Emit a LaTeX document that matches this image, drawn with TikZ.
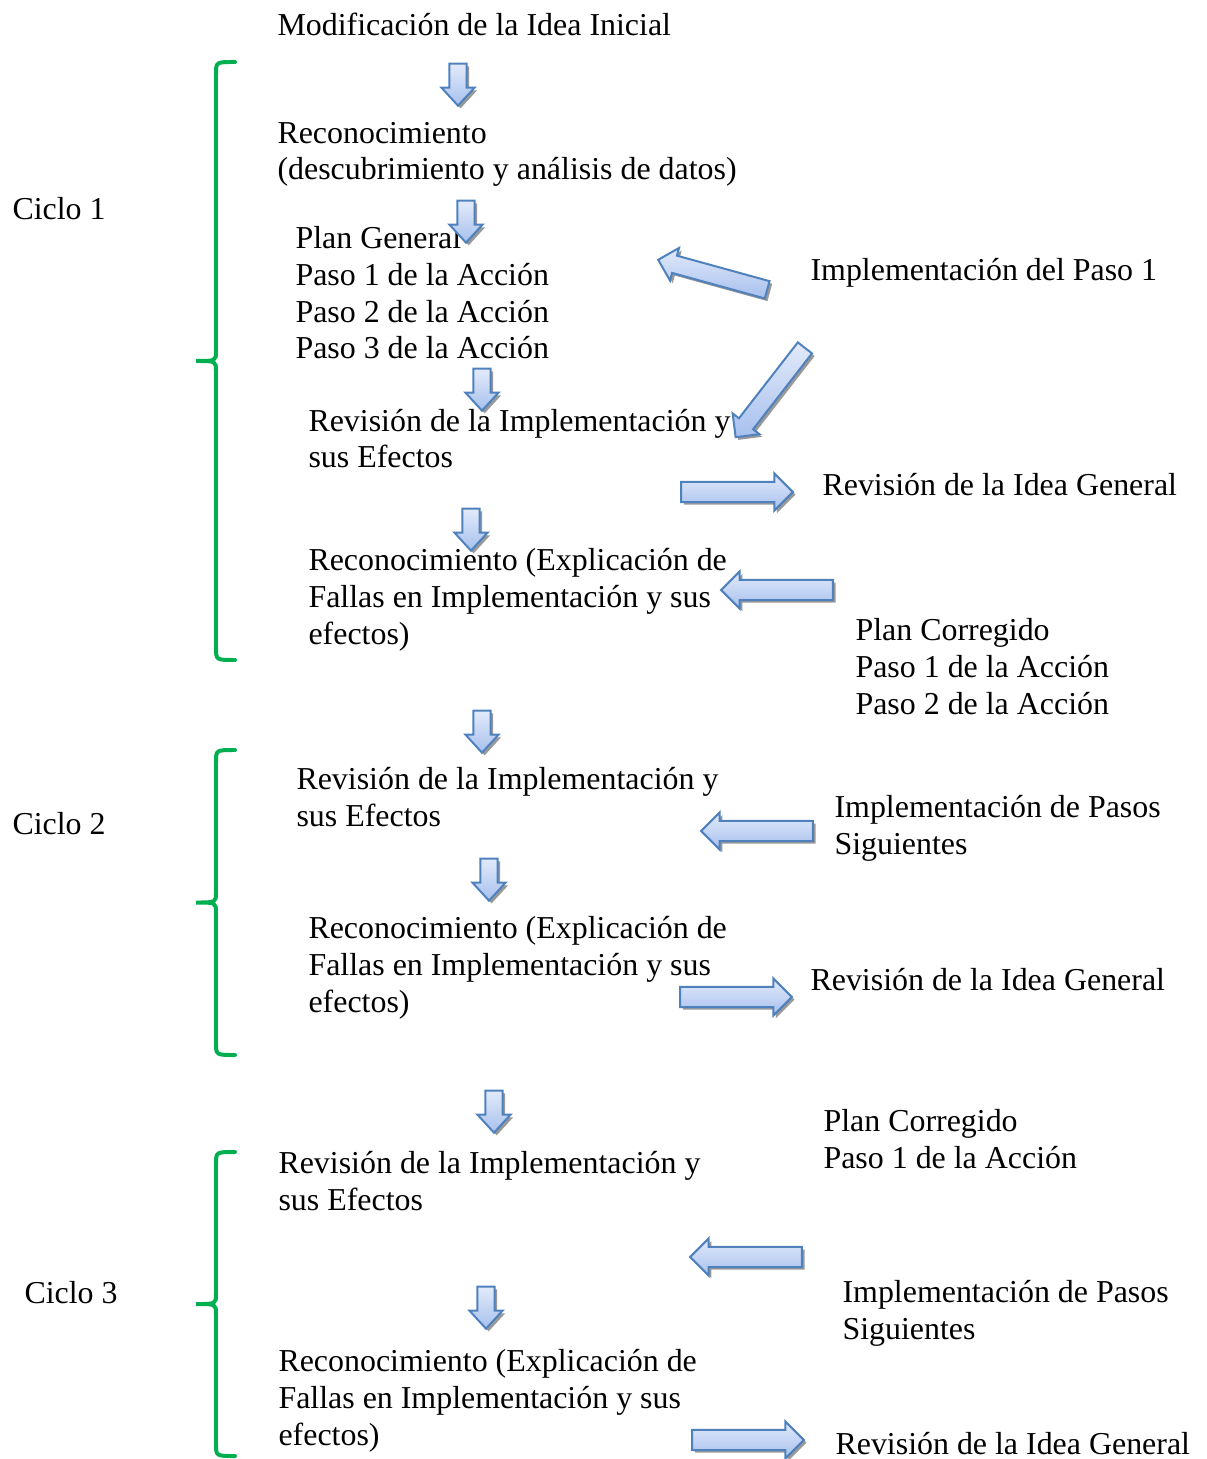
\documentclass[tikz,border=0pt]{standalone}
\usepackage{fontspec}
\setmainfont{Liberation Serif}
\usetikzlibrary{shapes.arrows,shadows}

\definecolor{borde}{HTML}{4F81BD}
\definecolor{claro}{HTML}{E2EAFA}
\definecolor{oscuro}{HTML}{A7C0EE}
\definecolor{verde}{HTML}{00B050}

\begin{document}
\begin{tikzpicture}[x=0.376pt,y=-0.376pt,
    txt/.style={anchor=base west,align=left,inner sep=0pt,font=\fontsize{12}{13.9}\selectfont},
    flecha/.style={single arrow,draw=borde,line width=0.75pt,top color=claro,bottom color=oscuro,
        inner sep=3.4pt,minimum height=42pt,single arrow head extend=3.2pt,
        single arrow tip angle=90,
        drop shadow={shadow xshift=1pt,shadow yshift=-1pt,fill=black!40,opacity=1}},
    baja/.style={flecha,shape border rotate=270,minimum height=15.8pt,inner sep=2.85pt,
        single arrow head extend=3pt,single arrow tip angle=85},
    izq/.style={flecha,shape border rotate=180},
    llave/.style={draw=verde,line width=1.5pt,line cap=round}]
    \useasboundingbox (0,0) rectangle (1206,1459);

    % textos (base = ultima linea)
    \node[txt] (mod) at (277,36) {Modificación de la Idea Inicial};
    \node[txt] (recon) at (277,180) {Reconocimiento\\(descubrimiento y análisis de datos)};
    \node[txt] (plan) at (295,359) {Plan General\\Paso 1 de la Acción\\Paso 2 de la Acción\\Paso 3 de la Acción};
    \node[txt] (impl) at (810,281) {Implementación del Paso 1};
    \node[txt] (rev1) at (308,468) {Revisión de la Implementación y\\sus Efectos};
    \node[txt] (idea1) at (822,496) {Revisión de la Idea General};
    \node[txt] (expl1) at (308,644) {Reconocimiento (Explicación de\\Fallas en Implementación y sus\\efectos)};
    \node[txt] (corr1) at (855,714) {Plan Corregido\\Paso 1 de la Acción\\Paso 2 de la Acción};
    \node[txt] (rev2) at (296,826) {Revisión de la Implementación y\\sus Efectos};
    \node[txt] (pasos2) at (834,854) {Implementación de Pasos\\Siguientes};
    \node[txt] (expl2) at (308,1012) {Reconocimiento (Explicación de\\Fallas en Implementación y sus\\efectos)};
    \node[txt] (idea2) at (810,990) {Revisión de la Idea General};
    \node[txt] (corr2) at (823,1168) {Plan Corregido\\Paso 1 de la Acción};
    \node[txt] (rev3) at (278,1210) {Revisión de la Implementación y\\sus Efectos};
    \node[txt] (pasos3) at (842,1339) {Implementación de Pasos\\Siguientes};
    \node[txt] (expl3) at (278,1445) {Reconocimiento (Explicación de\\Fallas en Implementación y sus\\efectos)};
    \node[txt] (idea3) at (835,1454) {Revisión de la Idea General};
    \node[txt] (ciclo1) at (12,220) {Ciclo 1};
    \node[txt] (ciclo2) at (12,834) {Ciclo 2};
    \node[txt] (ciclo3) at (24,1303) {Ciclo 3};

    % flechas hacia abajo
    \node[baja] (b1) at (458,80) {};
    \node[baja] (b2) at (466,217) {};
    \node[baja] (b3) at (482,385) {};
    \node[baja] (b4) at (471,525) {};
    \node[baja] (b5) at (482,727) {};
    \node[baja] (b6) at (489,875) {};
    \node[baja] (b7) at (494,1107) {};
    \node[baja] (b8) at (486,1303) {};

    % flechas laterales
    \node[flecha,rotate=164.6,minimum height=42.5pt,inner sep=3pt,single arrow head extend=3pt] (d1) at (717,276) {};
    \node[flecha,rotate=232.2,minimum height=42.5pt,inner sep=3pt,single arrow head extend=3pt] (d2) at (773,389) {};
    \node[flecha] (h1) at (732,492) {};
    \node[izq] (h2) at (782,590) {};
    \node[izq] (h3) at (762,831) {};
    \node[flecha] (h4) at (731,997) {};
    \node[izq] (h5) at (751,1257) {};
    \node[flecha] (h6) at (743,1440) {};

    % llaves
    \foreach \arriba/\abajo in {62/660,750/1055,1152/1456} {
        \pgfmathsetmacro{\medio}{(\arriba+\abajo)/2}
        \draw[llave] (235,\arriba) .. controls (216,\arriba) .. (216,\arriba+12)
            -- (216,\medio-10) .. controls (216,\medio) .. (196,\medio)
            .. controls (216,\medio) .. (216,\medio+10)
            -- (216,\abajo-12) .. controls (216,\abajo) .. (235,\abajo);
    }
\end{tikzpicture}
\end{document}
